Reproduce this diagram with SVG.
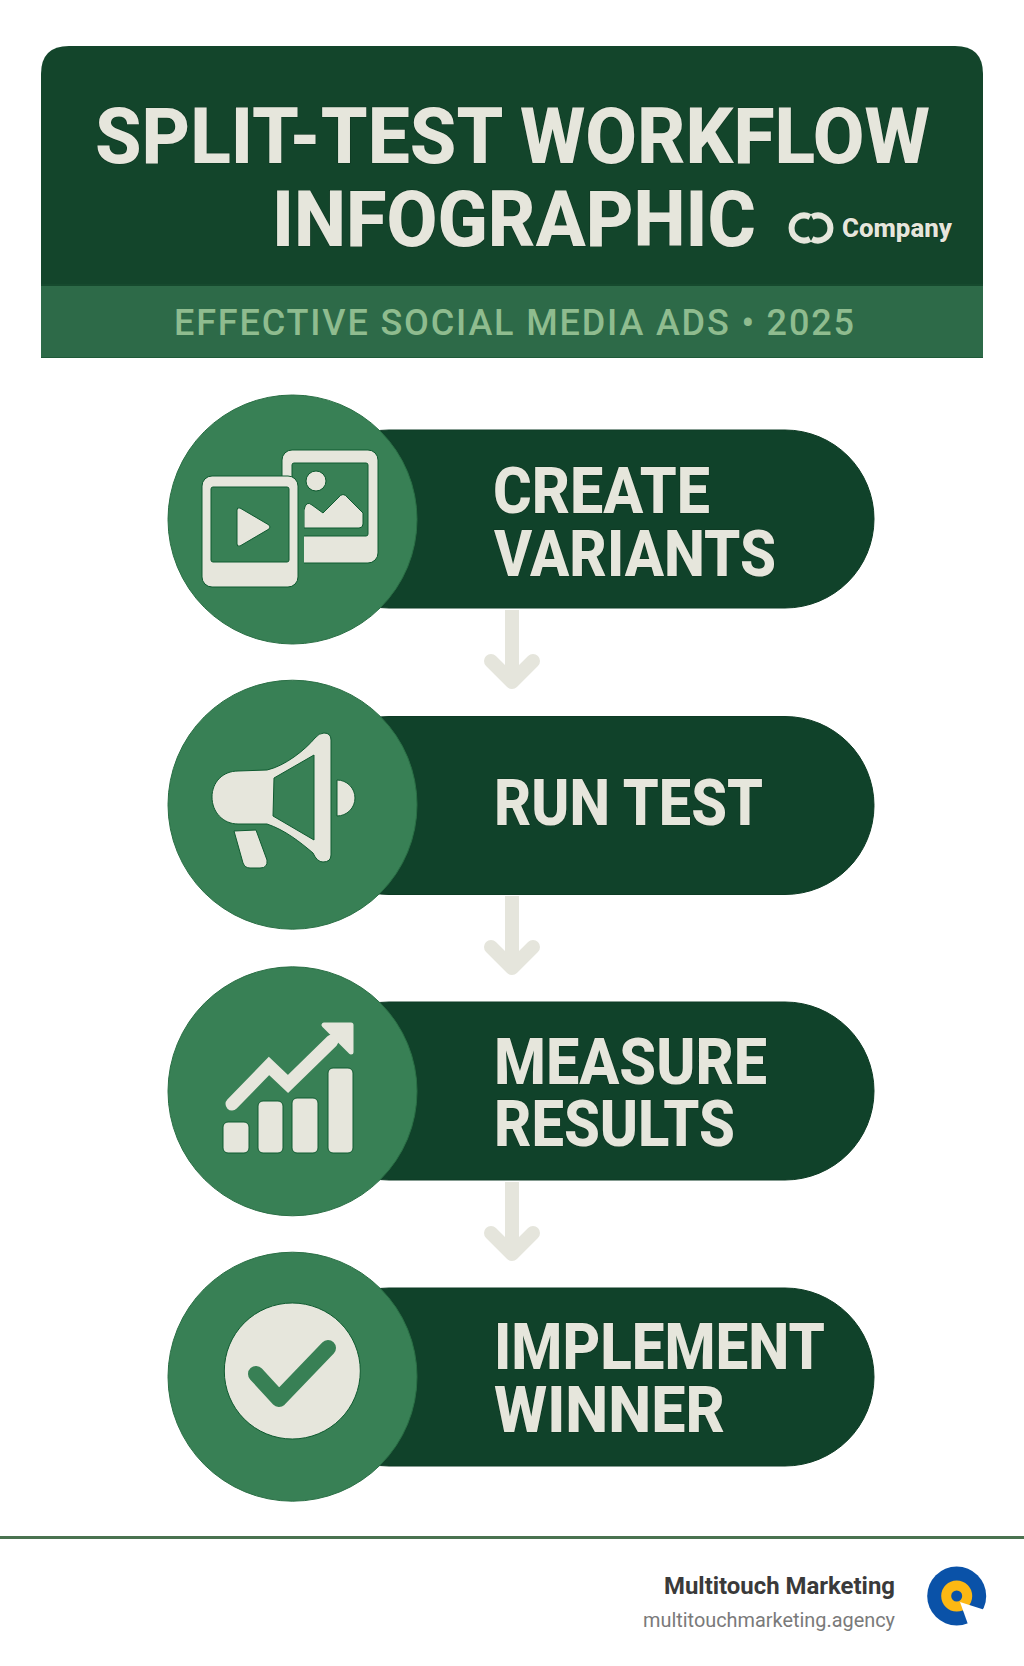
<svg xmlns="http://www.w3.org/2000/svg" width="1024" height="1666" viewBox="0 0 1024 1666">
<style>
text{font-family:Roboto,"Liberation Sans",sans-serif}
.t{fill:#e6e6dc;font-weight:800;stroke:#0d3520;stroke-width:1.2;paint-order:stroke}
.p{fill:#10422a;stroke:#0d3b24;stroke-width:1}
.c{fill:#388055;stroke:#2a6f45;stroke-width:1}
.i{fill:#e6e6dc;stroke:#0f5a30;stroke-width:1}
.w{fill:#388055;stroke:#0f5a30;stroke-width:1}
.a{fill:none;stroke:#e5e5dc;stroke-width:14;stroke-linejoin:round}
</style>
<defs>
<g id="arrow"><path class="a" d="M512 0V62"/><path class="a" stroke-linecap="round" d="M491 51L512 72L533 51"/></g>
</defs>
<rect width="1024" height="1666" fill="#fff"/>
<g id="header">
<path d="M41 285V74Q41 46 69 46H955Q983 46 983 74V285Z" fill="#13452b"/>
<rect x="41" y="285" width="942" height="73" fill="#2d6a48"/>
<rect x="41" y="284" width="942" height="2" fill="#164a2e"/>
<rect x="41" y="357" width="942" height="1" fill="#1e5a38"/>
<text class="t" x="95" y="163" font-size="78" textLength="835" lengthAdjust="spacingAndGlyphs">SPLIT-TEST WORKFLOW</text>
<text class="t" x="272" y="246" font-size="78" textLength="484" lengthAdjust="spacingAndGlyphs">INFOGRAPHIC</text>
<g id="company-logo" fill="none" stroke="#e6e6dc" stroke-width="6"><path d="M810 217A12.500 12.500 0 1 0 810 239"/><path d="M812 217A12.500 12.500 0 1 1 812 239"/></g>
<text class="t" x="842" y="237" font-size="25" textLength="110" lengthAdjust="spacingAndGlyphs">Company</text>
<text x="174" y="335" font-size="36" font-weight="500" fill="#8fbc8f" textLength="680" lengthAdjust="spacing">EFFECTIVE SOCIAL MEDIA ADS • 2025</text>
</g>
<g id="connectors">
<use href="#arrow" y="610"/>
<use href="#arrow" y="896"/>
<use href="#arrow" y="1182"/>
</g>
<g id="node-create-variants">
<rect class="p" x="300" y="430" width="574" height="178" rx="89"/>
<circle class="c" cx="292.500" cy="519.500" r="124.500"/>
<rect class="i" x="282" y="450" width="96" height="113" rx="10"/>
<rect class="w" x="292" y="463" width="76" height="73" rx="2"/>
<circle class="i" cx="316" cy="481" r="10"/>
<path class="i" d="M304 510Q306 500 312 505L323 513L338 498Q343 491 348 498L363 513V524Q363 528 359 528H304Z"/>
<rect x="297" y="476" width="7" height="90" fill="#388055"/>
<rect class="i" x="202" y="476" width="96" height="111" rx="10"/>
<rect class="w" x="211" y="487" width="78" height="75" rx="2"/>
<path class="i" d="M237 510Q237 507 240 508L269 525Q271 527 269 529L240 546Q237 547 237 544Z"/>
<text class="t" font-size="64"><tspan x="493" y="513" textLength="217" lengthAdjust="spacingAndGlyphs">CREATE</tspan><tspan x="494" y="576" textLength="282" lengthAdjust="spacingAndGlyphs">VARIANTS</tspan></text>
</g>
<g id="node-run-test">
<rect class="p" x="300" y="716.500" width="574" height="178" rx="89"/>
<circle class="c" cx="292.500" cy="804.700" r="124.500"/>
<path class="i" d="M267 770C285 766 305 750 315 738Q319 733 324 733Q331 733 331 740V855Q331 862 323 862Q317 862 313 853C300 842 285 830 267 824H238C223 824 212 812 212 797C212 782 223 771 238 771Z"/>
<path class="w" d="M274 778L314 755V840L273 816Z"/>
<path class="i" d="M337 780A18 18 0 0 1 337 816Z"/>
<path class="i" d="M234 831L256 830L267 860Q268 868 260 868H250Q245 868 243 863Z"/>
<text class="t" x="494" y="825" font-size="64" textLength="269" lengthAdjust="spacingAndGlyphs">RUN TEST</text>
</g>
<g id="node-measure-results">
<rect class="p" x="300" y="1002" width="574" height="178" rx="89"/>
<circle class="c" cx="292.500" cy="1091.300" r="124.500"/>
<rect class="i" x="223" y="1122" width="26" height="31" rx="5"/>
<rect class="i" x="258" y="1101" width="25" height="52" rx="5"/>
<rect class="i" x="292" y="1098" width="26" height="55" rx="5"/>
<rect class="i" x="328" y="1068" width="25" height="85" rx="5"/>
<path d="M232 1104L269 1066L288 1084L332 1041" fill="none" stroke="#e6e6dc" stroke-width="13" stroke-linecap="round" stroke-linejoin="miter"/>
<path d="M324 1025H351V1052Z" fill="#e6e6dc" stroke="#e6e6dc" stroke-width="5" stroke-linejoin="round"/>
<text class="t" font-size="64"><tspan x="494" y="1084" textLength="273" lengthAdjust="spacingAndGlyphs">MEASURE</tspan><tspan x="494" y="1146" textLength="241" lengthAdjust="spacingAndGlyphs">RESULTS</tspan></text>
</g>
<g id="node-implement-winner">
<rect class="p" x="300" y="1288" width="574" height="178" rx="89"/>
<circle class="c" cx="292.500" cy="1376.700" r="124.500"/>
<circle class="i" cx="292.300" cy="1371" r="68"/>
<path d="M256 1374L279 1399L328 1348" fill="none" stroke="#388055" stroke-width="16" stroke-linecap="round" stroke-linejoin="round"/>
<text class="t" font-size="64"><tspan x="494" y="1369" textLength="331" lengthAdjust="spacingAndGlyphs">IMPLEMENT</tspan><tspan x="494" y="1432" textLength="231" lengthAdjust="spacingAndGlyphs">WINNER</tspan></text>
</g>
<g id="footer">
<rect y="1536" width="1024" height="3" fill="#4a7350"/>
<text x="895" y="1594" font-size="23" font-weight="700" fill="#3a3a3a" text-anchor="end" textLength="231" lengthAdjust="spacingAndGlyphs">Multitouch Marketing</text>
<text x="895" y="1627" font-size="20" fill="#7a7a7a" text-anchor="end" textLength="252" lengthAdjust="spacingAndGlyphs">multitouchmarketing.agency</text>
<g id="brand-logo">
<circle cx="956.700" cy="1596" r="29.500" fill="#0a52a8"/>
<circle cx="956.700" cy="1596" r="15.500" fill="#fcb813"/>
<circle cx="956.700" cy="1596" r="5.500" fill="#0a52a8"/>
<path d="M960 1602L985 1610L970 1630Z" fill="#fff"/>
</g>
</g>
</svg>
